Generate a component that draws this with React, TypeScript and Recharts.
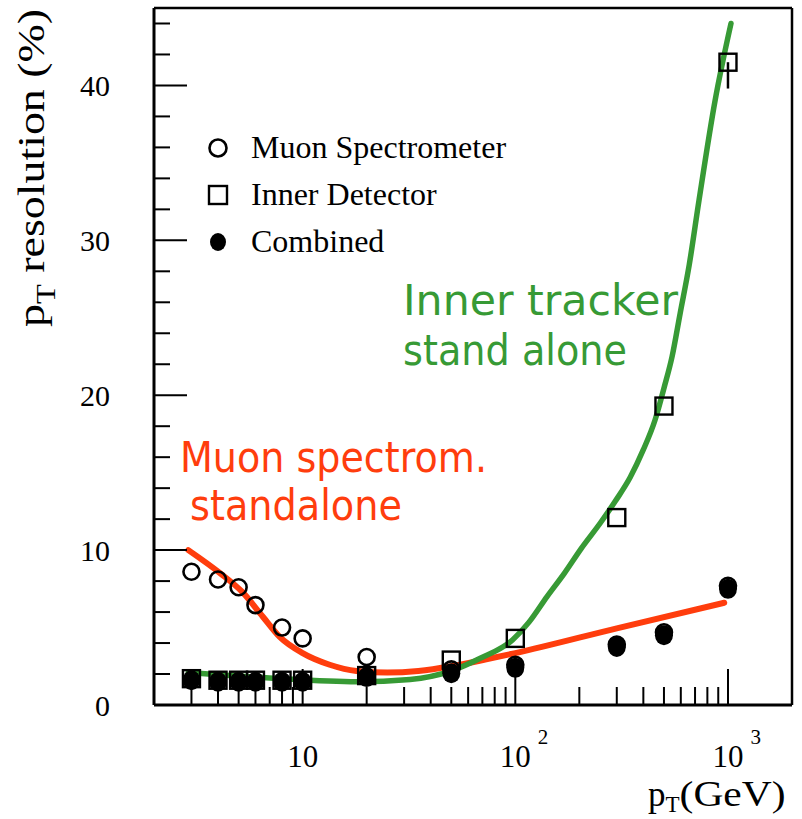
import React from 'react'
import {
  ComposedChart, Line, Scatter, XAxis, YAxis, Legend, ErrorBar, CartesianGrid,
} from 'recharts'

// ── Measured points: pT (GeV) vs resolution (%) ──────────────────────────────
const PT = [3, 4, 5, 6, 8, 10, 20, 50, 100, 300, 500, 1000]
const MUON_SPEC = [8.6, 8.1, 7.6, 6.45, 5.0, 4.3, 3.1, 2.3, 2.6, 3.9, 4.7, 7.7]
const INNER_DET = [1.7, 1.6, 1.6, 1.6, 1.6, 1.6, 1.9, 2.9, 4.3, 12.1, 19.3, 41.5]
const INNER_DET_ERR_LOW = [0, 0, 0, 0, 0, 0, 0, 0, 0, 0, 0, 1.7]
const COMBINED = [1.6, 1.5, 1.5, 1.5, 1.5, 1.5, 1.8, 2.05, 2.4, 3.75, 4.5, 7.5]

// ── Hand-drawn trend curves ──────────────────────────────────────────────────
const MS_CURVE_PT = [2.9, 4.1, 5.2, 6.5, 7.8, 10, 13.4, 17.9, 25, 35, 50, 73, 100, 300, 960]
const MS_CURVE = [10.0, 8.5, 7.3, 5.7, 4.4, 3.35, 2.6, 2.2, 2.1, 2.2, 2.5, 2.95, 3.35, 4.95, 6.6]
const ID_CURVE_PT = [2.9, 7, 18, 32, 50, 68, 97, 116, 141, 170, 204, 251, 295, 347, 399, 454, 501, 546, 596, 657, 731, 869, 1033]
const ID_CURVE = [2.1, 1.75, 1.5, 1.65, 2.2, 3.0, 4.2, 5.35, 7.0, 8.5, 10.1, 11.75, 13.15, 14.7, 16.45, 18.4, 20.5, 22.5, 25.3, 28.4, 32.6, 39.0, 44.0]

// ── Axes ─────────────────────────────────────────────────────────────────────
const X_DOMAIN = [2, 2000]
const Y_DOMAIN = [0, 45]
const X_TICKS = [3, 4, 5, 6, 7, 8, 9, 10, 20, 30, 40, 50, 60, 70, 80, 90, 100, 200, 300, 400, 500, 600, 700, 800, 900, 1000]
const X_DECADE_LABELS: Record<number, [string, string]> = { 10: ['10', ''], 100: ['10', '2'], 1000: ['10', '3'] }
const Y_TICKS = [0, 2, 4, 6, 8, 10, 12, 14, 16, 18, 20, 22, 24, 26, 28, 30, 32, 34, 36, 38, 40, 42, 44]

const C = {
  ink: '#000',
  red: '#FF3D0D',
  green: '#379A35',
}
const SERIF = '"Liberation Serif", "Times New Roman", serif'
const HAND = '"DejaVu Sans", sans-serif'

const msData = PT.map((x, i) => ({ x, y: MUON_SPEC[i] }))
const idData = PT.map((x, i) => ({ x, y: INNER_DET[i], err: [INNER_DET_ERR_LOW[i], 0] }))
const cbData = PT.map((x, i) => ({ x, y: COMBINED[i] }))
const msCurve = MS_CURVE_PT.map((x, i) => ({ x, y: MS_CURVE[i] }))
const idCurve = ID_CURVE_PT.map((x, i) => ({ x, y: ID_CURVE[i] }))

// ── Marker shapes ────────────────────────────────────────────────────────────
const OpenCircle = ({ cx, cy, r = 8 }: any) => (
  <circle cx={cx} cy={cy} r={r} fill="none" stroke={C.ink} strokeWidth={2.6} />
)
const OpenSquare = ({ cx, cy, s = 17 }: any) => (
  <rect x={cx - s / 2} y={cy - s / 2} width={s} height={s} fill="none" stroke={C.ink} strokeWidth={2.4} />
)
const FilledDot = ({ cx, cy, r = 9 }: any) => (
  <ellipse cx={cx} cy={cy} rx={r} ry={r + 1} fill={C.ink} />
)

const MARKERS: Record<string, (p: any) => React.ReactElement> = {
  'Muon Spectrometer': OpenCircle,
  'Inner Detector': OpenSquare,
  'Combined': FilledDot,
}
const LEGEND_ORDER = ['Muon Spectrometer', 'Inner Detector', 'Combined']

// ── Ticks drawn inside the frame ─────────────────────────────────────────────
function XTick({ x, y, payload }: any) {
  const v = payload.value
  const lab = X_DECADE_LABELS[v]
  return (
    <g>
      <line x1={x} x2={x} y1={y} y2={y - (lab ? 36 : 18)} stroke={C.ink} strokeWidth={2} />
      {lab && (
        <text x={x - 15.5} y={y + 62} fontSize={31} fontFamily={SERIF} fill={C.ink}>
          {lab[0]}
          {lab[1] && <tspan dx={7} dy={-23} fontSize={21}>{lab[1]}</tspan>}
        </text>
      )}
    </g>
  )
}

function YTick({ x, y, payload }: any) {
  const v = payload.value
  const major = v % 10 === 0
  return (
    <g>
      <line x1={x} x2={x + (major ? 33 : 16)} y1={y} y2={y} stroke={C.ink} strokeWidth={2} />
      {major && (
        <text x={x - 44} y={y + 11} textAnchor="end" fontSize={30} fontFamily={SERIF} fill={C.ink}>{v}</text>
      )}
    </g>
  )
}

function MarkerLegend({ payload }: any) {
  const names = (payload || []).map((e: any) => e.value).filter((n: string) => MARKERS[n])
  const items = LEGEND_ORDER.filter((n) => names.includes(n))
  return (
    <div style={{ fontFamily: SERIF, fontSize: 32, color: C.ink }}>
      {items.map((name) => {
        const Shape = MARKERS[name]
        return (
          <div key={name} style={{ display: 'flex', alignItems: 'center', height: 47 }}>
            <svg width={24} height={24} style={{ marginRight: 21 }}>
              <Shape cx={12} cy={12} r={name === 'Combined' ? 8 : 8.5} s={18} />
            </svg>
            <span style={{ lineHeight: '47px', whiteSpace: 'nowrap' }}>{name}</span>
          </div>
        )
      })}
    </div>
  )
}

export default function App() {
  return (
    <div style={{ width: 802, height: 819, background: '#fff' }}>
      <style>{'body{margin:0}'}</style>
      <ComposedChart width={802} height={819} margin={{ top: 8, right: 10, bottom: 0, left: 0 }}>
        {/* top and right edges of the frame */}
        <CartesianGrid
          stroke={C.ink} strokeWidth={2.5}
          horizontalCoordinatesGenerator={({ offset }: any) => [offset.top]}
          verticalCoordinatesGenerator={({ offset }: any) => [offset.left + offset.width]}
        />
        <XAxis
          dataKey="x" type="number" scale="log" domain={X_DOMAIN} allowDataOverflow
          ticks={X_TICKS} interval={0} tick={<XTick />} tickLine={false} tickSize={0} tickMargin={0}
          axisLine={{ stroke: C.ink, strokeWidth: 3 }} height={114}
        />
        <YAxis
          dataKey="y" type="number" domain={Y_DOMAIN} allowDataOverflow
          ticks={Y_TICKS} interval={0} tick={<YTick />} tickLine={false} tickSize={0} tickMargin={0}
          axisLine={{ stroke: C.ink, strokeWidth: 3 }} width={154}
        />

        <Scatter name="Muon Spectrometer" data={msData} dataKey="y" shape={<OpenCircle />} isAnimationActive={false} />
        <Scatter name="Inner Detector" data={idData} dataKey="y" shape={<OpenSquare />} isAnimationActive={false}>
          <ErrorBar dataKey="err" direction="y" width={0} stroke={C.ink} strokeWidth={2.5} />
        </Scatter>
        <Scatter name="Combined" data={cbData} dataKey="y" shape={<FilledDot />} isAnimationActive={false} />

        <Line name="ms-curve" data={msCurve} dataKey="y" type="monotone" stroke={C.red} strokeWidth={6} strokeLinecap="round"
          dot={false} activeDot={false} legendType="none" isAnimationActive={false} />
        <Line name="id-curve" data={idCurve} dataKey="y" type="monotone" stroke={C.green} strokeWidth={5.5} strokeLinecap="round"
          dot={false} activeDot={false} legendType="none" isAnimationActive={false} />

        <Legend
          layout="vertical" align="center" verticalAlign="middle"
          content={<MarkerLegend />}
          wrapperStyle={{ left: 206, top: 124, width: 'auto', height: 'auto' }}
        />

        <text fill={C.green} fontFamily={HAND} fontSize={42}>
          <tspan x={403} y={315} textLength={275} lengthAdjust="spacingAndGlyphs">Inner tracker</tspan>
          <tspan x={403} y={365} textLength={224} lengthAdjust="spacingAndGlyphs">stand alone</tspan>
        </text>
        <text fill={C.red} fontFamily={HAND} fontSize={42}>
          <tspan x={180} y={472} textLength={307} lengthAdjust="spacingAndGlyphs">Muon spectrom.</tspan>
          <tspan x={190} y={520} textLength={212} lengthAdjust="spacingAndGlyphs">standalone</tspan>
        </text>

        <text transform="rotate(-90, 44, 168)" x={44} y={168} textAnchor="middle" fontFamily={SERIF} fontSize={38}
          fill={C.ink} textLength={318} lengthAdjust="spacingAndGlyphs">
          p<tspan dy={11} fontSize={27}>T</tspan><tspan dy={-11}> resolution (%)</tspan>
        </text>
        <text x={648} y={806} fontFamily={SERIF} fontSize={35} fill={C.ink}>
          p<tspan dy={6} fontSize={23}>T</tspan><tspan dy={-6} textLength={106} lengthAdjust="spacingAndGlyphs">(GeV)</tspan>
        </text>
      </ComposedChart>
    </div>
  )
}
